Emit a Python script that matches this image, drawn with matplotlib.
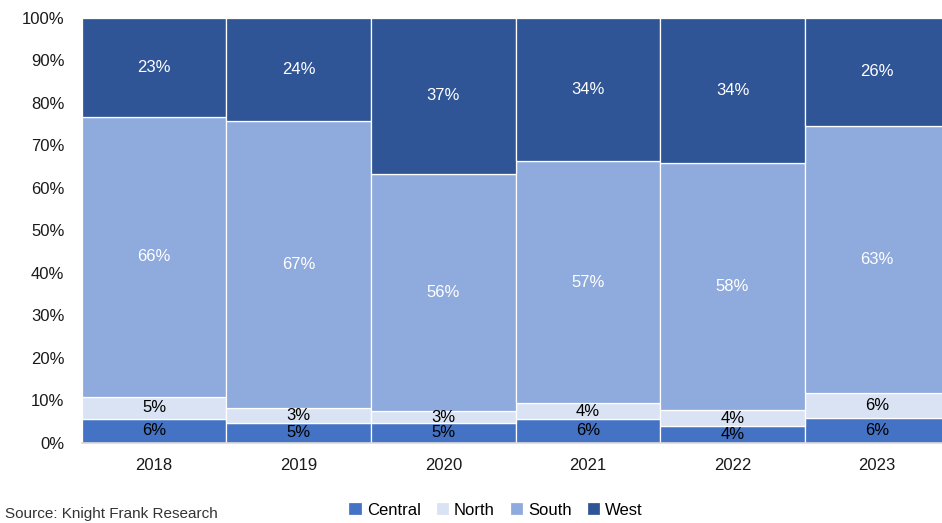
import numpy as np
import matplotlib.pyplot as plt

plt.rcParams['font.family'] = ['Liberation Sans', 'DejaVu Sans']

years = ['2018', '2019', '2020', '2021', '2022', '2023']
central = [5.6, 4.7, 4.6, 5.6, 3.9, 5.8]
north = [5.2, 3.4, 2.8, 3.6, 3.7, 5.9]
south = [65.8, 67.45, 55.8, 57.0, 58.2, 62.7]
west = [23.4, 24.45, 36.8, 33.8, 34.2, 25.6]

series = [('Central', central, '#4472C4', 'black'),
          ('North', north, '#DAE3F3', 'black'),
          ('South', south, '#8FAADC', 'white'),
          ('West', west, '#2F5597', 'white')]

fig = plt.figure(figsize=(9.42, 5.23), dpi=100)
ax = fig.add_axes([0.0867, 0.1539, 1.008 - 0.0867, 0.9665 - 0.1539])

x = np.arange(len(years))
bottom = np.zeros(len(years))
for name, vals, col, tcol in series:
    vals = np.array(vals)
    ax.bar(x, vals, bottom=bottom, width=1.0, color=col, edgecolor='white',
           linewidth=0.9, label=name)
    for xi, b, v in zip(x, bottom, vals):
        ax.text(xi, b + v / 2, '%.0f%%' % v, ha='center', va='center',
                fontsize=12, color=tcol)
    bottom += vals

ax.set_xlim(-0.5, len(years) - 0.5)
ax.set_ylim(0, 100)
ax.set_xticks(x)
ax.set_xticklabels(years)
ax.set_yticks(range(0, 101, 10))
ax.set_yticklabels(['%d%%' % v for v in range(0, 101, 10)])
ax.tick_params(axis='both', length=0, labelsize=12, colors='#1a1a1a')
ax.tick_params(axis='x', pad=11)
ax.tick_params(axis='y', pad=12.5)
for s in ['top', 'right', 'left']:
    ax.spines[s].set_visible(False)
ax.spines['bottom'].set_color('#D9D9D9')
ax.spines['bottom'].set_linewidth(1.2)

fig.legend(loc='center', bbox_to_anchor=(0.526, 0.025), ncol=4, frameon=False,
           fontsize=12, handlelength=0.8, handleheight=0.8,
           handletextpad=0.3, columnspacing=0.9)
fig.text(0.005, 0.018, 'Source: Knight Frank Research', fontsize=11,
         color='#333333', ha='left', va='center')

fig.savefig('out.png', dpi=100)
